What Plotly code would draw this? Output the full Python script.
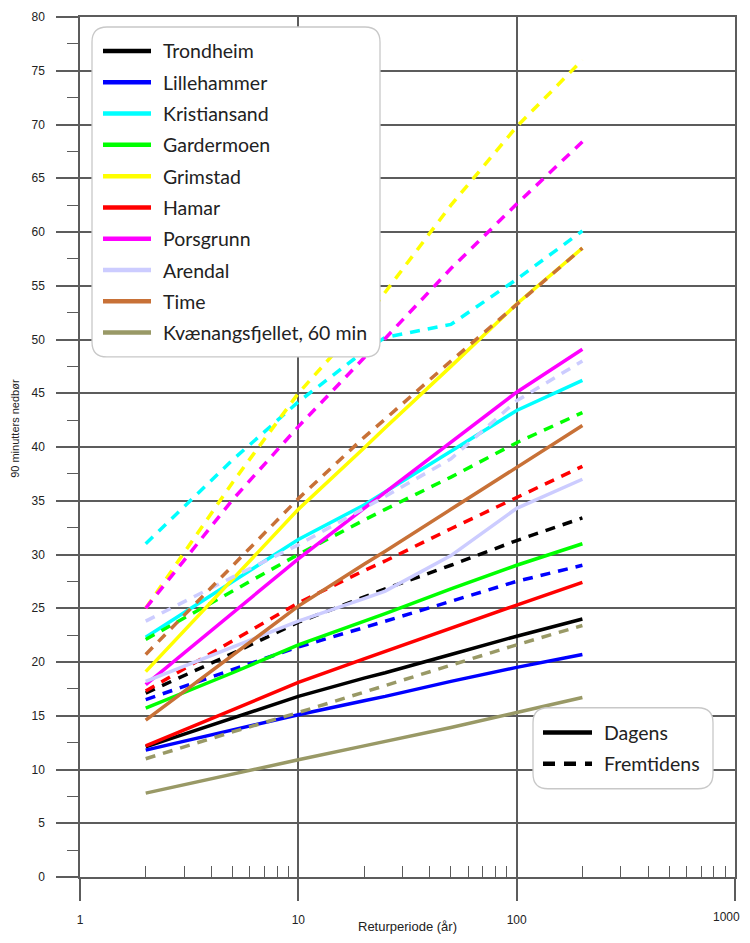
import plotly.graph_objects as go

# ---------------- data ----------------
return_periods = [2, 5, 10, 20, 25, 50, 100, 200]

stations = ["Trondheim", "Lillehammer", "Kristiansand", "Gardermoen", "Grimstad",
            "Hamar", "Porsgrunn", "Arendal", "Time", "Kvænangsfjellet, 60 min"]

colors = ["#000000", "#0000FF", "#00FFFF", "#00FF00", "#FFFF00",
          "#FF0000", "#FF00FF", "#CCCCFF", "#C87137", "#999966"]

# Dagens (solid)
trondheim_dagens = [12.1, 14.8, 16.8, 18.5, 19.0, 20.7, 22.4, 24.0]
lillehammer_dagens = [11.8, 13.7, 15.1, 16.4, 16.8, 18.2, 19.5, 20.7]
kristiansand_dagens = [22.3, 27.5, 31.4, 34.6, 35.8, 39.6, 43.4, 46.2]
gardermoen_dagens = [15.7, 19.0, 21.6, 23.8, 24.5, 26.8, 29.0, 31.0]
grimstad_dagens = [19.1, 27.7, 34.2, 39.9, 41.8, 47.5, 53.3, 58.5]
hamar_dagens = [12.2, 15.6, 18.1, 20.3, 21.0, 23.2, 25.3, 27.4]
porsgrunn_dagens = [17.9, 24.6, 29.6, 34.3, 35.8, 40.4, 45.1, 49.1]
arendal_dagens = [18.2, 21.4, 23.8, 25.9, 26.6, 29.9, 34.3, 37.0]
time_dagens = [14.6, 20.6, 25.2, 29.1, 30.3, 34.2, 38.1, 42.0]
kvaenangsfjellet_dagens = [7.8, 9.6, 10.9, 12.2, 12.6, 13.9, 15.3, 16.7]

# Fremtidens (dashed)
trondheim_fremtid = [17.1, 20.8, 23.7, 26.0, 26.8, 29.0, 31.3, 33.4]
lillehammer_fremtid = [16.5, 19.3, 21.4, 23.2, 23.8, 25.7, 27.5, 29.0]
kristiansand_fremtid = [31.0, 38.8, 44.2, 48.9, 50.2, 51.4, 55.6, 60.1]
gardermoen_fremtid = [22.1, 26.6, 30.0, 33.2, 34.2, 37.2, 40.4, 43.2]
grimstad_fremtid = [25.0, 36.7, 45.0, 51.8, 54.4, 62.5, 69.8, 76.0]
hamar_fremtid = [17.3, 22.0, 25.5, 28.5, 29.4, 32.4, 35.3, 38.2]
porsgrunn_fremtid = [25.0, 35.1, 41.9, 48.3, 50.1, 56.6, 62.6, 68.4]
arendal_fremtid = [23.8, 27.9, 30.9, 34.3, 35.4, 38.9, 44.3, 48.0]
time_fremtid = [20.7, 28.9, 35.2, 40.9, 42.6, 48.0, 53.3, 58.5]
kvaenangsfjellet_fremtid = [11.0, 13.5, 15.3, 17.2, 17.8, 19.7, 21.6, 23.4]

dagens = [trondheim_dagens, lillehammer_dagens, kristiansand_dagens, gardermoen_dagens,
          grimstad_dagens, hamar_dagens, porsgrunn_dagens, arendal_dagens,
          time_dagens, kvaenangsfjellet_dagens]
fremtid = [trondheim_fremtid, lillehammer_fremtid, kristiansand_fremtid, gardermoen_fremtid,
           grimstad_fremtid, hamar_fremtid, porsgrunn_fremtid, arendal_fremtid,
           time_fremtid, kvaenangsfjellet_fremtid]

scenario_labels = ["Dagens", "Fremtidens"]

x_tickvals = [1, 10, 100, 1000]
x_ticktext = ["1", "10", "100", "1000"]
x_minor_ticks = [m * d for d in (1, 10, 100) for m in range(2, 10)]

x_title = "Returperiode (år)"
y_title = "90 minutters nedbør"

# ---------------- figure geometry (page pixels; page body has 8px margin) ----------------
OFF = 8
PAGE_W, PAGE_H = 750, 943
PLOT_L, PLOT_R, PLOT_T, PLOT_B = 80, 735, 17, 877.3
W, H = PAGE_W - OFF, PAGE_H - 2 * OFF      # keep the page free of scrollbars
L, T = PLOT_L - OFF, PLOT_T - OFF
R, B = OFF + W - PLOT_R, OFF + H - PLOT_B
PW, PH = PLOT_R - PLOT_L, PLOT_B - PLOT_T

def px(p):
    return (p - PLOT_L) / PW

def py(p):
    return (PLOT_B - p) / PH

DASH = "10px,8px"
LW = 3.5
GRID = "#5c5c5c"
TXT = "#222222"
TICK_FONT = dict(family="Liberation Sans, Arial", size=12, color=TXT)

fig = go.Figure()
for name, col, yd, yf in zip(stations, colors, dagens, fremtid):
    fig.add_trace(go.Scatter(x=return_periods, y=yd, mode="lines", name=name,
                             line=dict(color=col, width=LW), showlegend=False))
    fig.add_trace(go.Scatter(x=return_periods, y=yf, mode="lines", name=name + " (fremtid)",
                             line=dict(color=col, width=LW, dash=DASH), showlegend=False))

fig.update_layout(
    width=W, height=H,
    margin=dict(l=L, r=R, t=T, b=B, autoexpand=False),
    plot_bgcolor="white", paper_bgcolor="white",
    showlegend=False,
    font=dict(family="Liberation Sans, Arial", size=12, color=TXT),
)

# the last label sits at the page edge; it is drawn as an annotation so it stays whole
axis_ticktext = x_ticktext[:-1] + [""]
fig.update_xaxes(
    type="log", range=[0, 3], automargin=False,
    tickvals=x_tickvals, ticktext=axis_ticktext,
    ticks="outside", ticklen=22, tickwidth=1.5, tickcolor=GRID,
    showgrid=True, gridcolor=GRID, gridwidth=1.5,
    showline=True, linecolor=GRID, linewidth=1.5, mirror=True,
    zeroline=False,
    ticklabelstandoff=9,
    tickfont=TICK_FONT,
    minor=dict(tickvals=x_minor_ticks, ticks="inside", ticklen=11,
               tickwidth=1.2, tickcolor=GRID, showgrid=False),
)
fig.add_annotation(text=x_ticktext[-1], xref="paper", yref="paper", x=px(742), y=py(917.5),
                   xanchor="right", yanchor="middle", showarrow=False, font=TICK_FONT)

fig.update_yaxes(
    range=[0, 80], dtick=5, tick0=0, automargin=False,
    ticks="outside", ticklen=22, tickwidth=1.5, tickcolor=GRID,
    showgrid=True, gridcolor=GRID, gridwidth=1.5,
    showline=True, linecolor=GRID, linewidth=1.5, mirror=True,
    zeroline=False,
    ticklabelstandoff=9,
    tickfont=TICK_FONT,
    minor=dict(dtick=2.5, ticks="outside", ticklen=11, tickwidth=1.2,
               tickcolor=GRID, showgrid=False),
)

# axis titles
fig.add_annotation(text=y_title, xref="paper", yref="paper", x=px(15), y=py(429),
                   textangle=-90, showarrow=False, xanchor="center", yanchor="middle",
                   font=dict(family="Liberation Sans, Arial", size=11, color=TXT))
fig.add_annotation(text=x_title, xref="paper", yref="paper", x=0.5, y=py(927),
                   showarrow=False, xanchor="center", yanchor="middle",
                   font=dict(family="Liberation Sans, Arial", size=13, color=TXT))

# ---------------- legends (rounded boxes) ----------------
def rounded_box(x0, y0, x1, y1, r=15):
    rx, ry = r / PW, r / PH
    X0, X1 = px(x0), px(x1)
    Y0, Y1 = py(y0), py(y1)  # Y0 top (larger), Y1 bottom
    path = (f"M{X0+rx},{Y0} L{X1-rx},{Y0} Q{X1},{Y0} {X1},{Y0-ry} "
            f"L{X1},{Y1+ry} Q{X1},{Y1} {X1-rx},{Y1} "
            f"L{X0+rx},{Y1} Q{X0},{Y1} {X0},{Y1+ry} "
            f"L{X0},{Y0-ry} Q{X0},{Y0} {X0+rx},{Y0} Z")
    fig.add_shape(type="path", path=path, xref="paper", yref="paper",
                  fillcolor="white", line=dict(color="#c8c8c8", width=1.3), layer="above")

LEG_FONT = dict(family="Lato, Noto Sans", size=19.5, color=TXT)

# station legend
rounded_box(92, 27, 380, 357)
for i, (name, col) in enumerate(zip(stations, colors)):
    yy = 51 + 31.3 * i
    fig.add_shape(type="line", xref="paper", yref="paper",
                  x0=px(103), x1=px(151), y0=py(yy), y1=py(yy),
                  line=dict(color=col, width=4.5), layer="above")
    fig.add_annotation(text=name, xref="paper", yref="paper", x=px(161), y=py(yy),
                       xanchor="left", yanchor="middle", showarrow=False, font=LEG_FONT)

# scenario legend
rounded_box(533, 708, 713, 789)
for i, (lab, dash) in enumerate(zip(scenario_labels, ["solid", "12px,9px"])):
    yy = 732.7 + 31.3 * i
    fig.add_shape(type="line", xref="paper", yref="paper",
                  x0=px(543), x1=px(592), y0=py(yy), y1=py(yy),
                  line=dict(color="#000000", width=4.5, dash=dash), layer="above")
    fig.add_annotation(text=lab, xref="paper", yref="paper", x=px(602), y=py(yy),
                       xanchor="left", yanchor="middle", showarrow=False, font=LEG_FONT)

fig.write_html("out.html")
